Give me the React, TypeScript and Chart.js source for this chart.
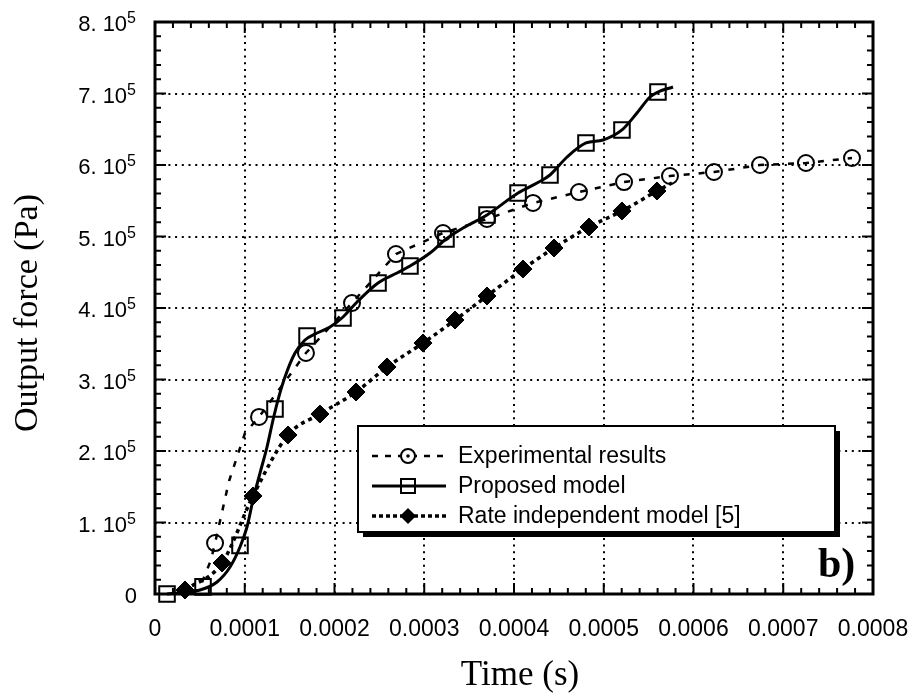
import React, { useEffect, useRef } from "react";
import { Chart, registerables } from "chart.js";

Chart.register(...registerables);

// time values in units of 1e-4 s, force in units of 1e5 Pa
const T_UNIT = 1e-4;
const F_UNIT = 1e5;

// Experimental results (markers)
const expMarkT = [0.669, 1.159, 1.682, 2.195, 2.685, 3.209, 3.699, 4.212, 4.724, 5.226, 5.738, 6.228, 6.741, 7.253, 7.766];
const expMarkF = [0.713, 2.476, 3.371, 4.07, 4.755, 5.049, 5.245, 5.469, 5.622, 5.762, 5.846, 5.902, 6.0, 6.028, 6.098];
// Experimental results (dashed trace)
const expLineT = [0.42, 0.52, 0.624, 0.669, 0.825, 1.003, 1.159, 1.682, 2.195, 2.685, 3.209, 3.699, 4.212, 4.724, 5.226, 5.738, 6.228, 6.741, 7.253, 7.766];
const expLineF = [0.0, 0.15, 0.476, 0.713, 1.58, 2.252, 2.476, 3.371, 4.07, 4.755, 5.049, 5.245, 5.469, 5.622, 5.762, 5.846, 5.902, 6.0, 6.028, 6.098];

// Proposed model (markers)
const propMarkT = [0.134, 0.535, 0.947, 1.337, 1.694, 2.095, 2.485, 2.841, 3.242, 3.699, 4.045, 4.401, 4.802, 5.203, 5.604];
const propMarkF = [0.0, 0.1, 0.68, 2.587, 3.608, 3.86, 4.35, 4.587, 4.965, 5.301, 5.608, 5.86, 6.308, 6.49, 7.021];
// Proposed model (solid trace)
const propLineT = [0.134, 0.501, 0.691, 0.836, 0.947, 1.025, 1.092, 1.17, 1.248, 1.315, 1.37, 1.448, 1.56, 1.671, 1.805, 1.95, 2.095, 2.251, 2.485, 2.696, 2.841, 3.064, 3.242, 3.432, 3.699, 4.045, 4.256, 4.401, 4.591, 4.802, 4.992, 5.203, 5.37, 5.515, 5.604, 5.772];
const propLineF = [0.0, 0.056, 0.168, 0.378, 0.657, 0.937, 1.315, 1.692, 2.056, 2.434, 2.713, 3.035, 3.371, 3.552, 3.65, 3.734, 3.874, 4.084, 4.35, 4.49, 4.587, 4.769, 4.965, 5.119, 5.301, 5.608, 5.748, 5.86, 6.112, 6.308, 6.35, 6.49, 6.727, 6.951, 7.021, 7.091];

// Rate independent model [5]
const rateMarkT = [0.334, 0.747, 1.092, 1.482, 1.838, 2.24, 2.585, 2.986, 3.343, 3.699, 4.1, 4.446, 4.836, 5.203, 5.593];
const rateMarkF = [0.056, 0.434, 1.371, 2.224, 2.517, 2.825, 3.175, 3.51, 3.832, 4.168, 4.545, 4.839, 5.133, 5.357, 5.636];
const rateLineT = [0.334, 0.747, 1.092, 1.482, 1.838, 2.24, 2.585, 2.986, 3.343, 3.699, 4.1, 4.446, 4.836, 5.203, 5.593, 5.76];
const rateLineF = [0.056, 0.434, 1.371, 2.224, 2.517, 2.825, 3.175, 3.51, 3.832, 4.168, 4.545, 4.839, 5.133, 5.357, 5.636, 5.748];

// Axes
const xTickValues = [0, 0.0001, 0.0002, 0.0003, 0.0004, 0.0005, 0.0006, 0.0007, 0.0008];
const xTickLabels = ["0", "0.0001", "0.0002", "0.0003", "0.0004", "0.0005", "0.0006", "0.0007", "0.0008"];
const yTickValues = [0, 100000, 200000, 300000, 400000, 500000, 600000, 700000, 800000];
const yTickMantissa = ["0", "1. 10", "2. 10", "3. 10", "4. 10", "5. 10", "6. 10", "7. 10", "8. 10"];
const yTickExponent = ["", "5", "5", "5", "5", "5", "5", "5", "5"];
const xTitle = "Time (s)";
const yTitle = "Output force (Pa)";
const panelLabel = "b)";
const legendLabels = ["Experimental results", "Proposed model", "Rate independent model [5]"];

const SANS = '"Liberation Sans", Arial, sans-serif';
const SERIF = '"Liberation Serif", "Times New Roman", serif';

const toPts = (t: number[], f: number[]) => t.map((v, i) => ({ x: v * T_UNIT, y: f[i] * F_UNIT }));

const framePlugin = {
  id: "framePlugin",
  afterDraw(chart: any) {
    const { ctx, chartArea: a, scales } = chart;
    const x = scales.x;
    const y = scales.y;
    ctx.save();
    ctx.strokeStyle = "#000";
    ctx.fillStyle = "#000";
    ctx.setLineDash([]);

    // frame
    ctx.lineWidth = 3;
    ctx.strokeRect(a.left, a.top, a.right - a.left, a.bottom - a.top);

    // inward ticks
    ctx.lineWidth = 2;
    ctx.beginPath();
    for (let i = 0; i <= 40; i++) {
      const px = x.getPixelForValue(i * 0.00002);
      const len = i % 5 === 0 ? 11 : 6;
      ctx.moveTo(px, a.bottom);
      ctx.lineTo(px, a.bottom - len);
      ctx.moveTo(px, a.top);
      ctx.lineTo(px, a.top + len);
    }
    for (let i = 0; i <= 40; i++) {
      const py = y.getPixelForValue(i * 20000);
      const len = i % 5 === 0 ? 11 : 6;
      ctx.moveTo(a.left, py);
      ctx.lineTo(a.left + len, py);
      ctx.moveTo(a.right, py);
      ctx.lineTo(a.right - len, py);
    }
    ctx.stroke();

    // x tick labels
    ctx.font = `23px ${SANS}`;
    ctx.textAlign = "center";
    ctx.textBaseline = "alphabetic";
    xTickValues.forEach((v, i) => {
      ctx.fillText(xTickLabels[i], x.getPixelForValue(v), a.bottom + 42);
    });

    // y tick labels with superscript
    const right = a.left - 19;
    yTickValues.forEach((v, i) => {
      const py = y.getPixelForValue(v);
      ctx.textAlign = "right";
      if (yTickExponent[i]) {
        ctx.font = `16px ${SANS}`;
        const ew = ctx.measureText(yTickExponent[i]).width;
        ctx.fillText(yTickExponent[i], right, py + 1);
        ctx.font = `22px ${SANS}`;
        ctx.fillText(yTickMantissa[i], right - ew, py + 9);
      } else {
        ctx.font = `22px ${SANS}`;
        ctx.fillText(yTickMantissa[i], right + 1, py + 9);
      }
    });

    // axis titles
    ctx.font = `35px ${SERIF}`;
    ctx.textAlign = "center";
    ctx.fillText(xTitle, (a.left + a.right) / 2 + 6, 685);
    ctx.save();
    ctx.translate(37, (a.top + a.bottom) / 2 + 5);
    ctx.rotate(-Math.PI / 2);
    ctx.font = `34px ${SERIF}`;
    ctx.fillText(yTitle, 0, 0);
    ctx.restore();

    // panel label
    ctx.font = `bold 42px ${SERIF}`;
    ctx.textAlign = "left";
    ctx.fillText(panelLabel, 818, 577);

    // legend
    const lx = 358, ly = 426, lw = 477, lh = 106;
    ctx.fillStyle = "#000";
    ctx.fillRect(lx + 5, ly + 5, lw, lh);
    ctx.fillStyle = "#fff";
    ctx.fillRect(lx, ly, lw, lh);
    ctx.lineWidth = 2;
    ctx.strokeStyle = "#000";
    ctx.strokeRect(lx, ly, lw, lh);

    const rows = [456, 486, 516];
    const sx0 = 372, sx1 = 446, mx = 408;
    // row 1 experimental
    ctx.lineWidth = 2.5;
    ctx.setLineDash([6, 7]);
    ctx.beginPath();
    ctx.moveTo(sx0, rows[0]);
    ctx.lineTo(sx1, rows[0]);
    ctx.stroke();
    ctx.setLineDash([]);
    ctx.fillStyle = "#fff";
    ctx.beginPath();
    ctx.arc(mx, rows[0], 7, 0, Math.PI * 2);
    ctx.fill();
    ctx.lineWidth = 2;
    ctx.stroke();
    ctx.fillStyle = "#000";
    ctx.beginPath();
    ctx.arc(mx, rows[0], 1.8, 0, Math.PI * 2);
    ctx.fill();
    // row 2 proposed
    ctx.lineWidth = 3;
    ctx.beginPath();
    ctx.moveTo(sx0, rows[1]);
    ctx.lineTo(sx1, rows[1]);
    ctx.stroke();
    ctx.lineWidth = 2;
    ctx.strokeRect(mx - 7, rows[1] - 7, 14, 14);
    // row 3 rate independent
    ctx.lineWidth = 3.5;
    ctx.setLineDash([4, 3]);
    ctx.beginPath();
    ctx.moveTo(sx0, rows[2]);
    ctx.lineTo(sx1, rows[2]);
    ctx.stroke();
    ctx.setLineDash([]);
    ctx.beginPath();
    ctx.moveTo(mx, rows[2] - 8);
    ctx.lineTo(mx + 8, rows[2]);
    ctx.lineTo(mx, rows[2] + 8);
    ctx.lineTo(mx - 8, rows[2]);
    ctx.closePath();
    ctx.fill();

    ctx.font = `23px ${SANS}`;
    ctx.textAlign = "left";
    ctx.textBaseline = "middle";
    legendLabels.forEach((s, i) => ctx.fillText(s, 458, rows[i] + 1));

    ctx.restore();
  },
};

export default function App() {
  const ref = useRef<HTMLCanvasElement | null>(null);

  useEffect(() => {
    if (!ref.current) return;
    const lineBase = { pointRadius: 0, borderColor: "#000", backgroundColor: "transparent", clip: false as any, order: 2, showLine: true, cubicInterpolationMode: "monotone" as any };
    const markBase = { showLine: false, borderColor: "#000", clip: false as any, order: 0 };
    const chart = new Chart(ref.current, {
      type: "scatter",
      data: {
        datasets: [
          { ...lineBase, data: toPts(expLineT, expLineF), borderWidth: 2.5, borderDash: [6, 9], cubicInterpolationMode: "default", tension: 0 },
          { ...markBase, data: toPts(expMarkT, expMarkF), pointStyle: "circle", pointRadius: 8, pointBorderWidth: 2, backgroundColor: "transparent" },
          { ...lineBase, data: toPts(propLineT, propLineF), borderWidth: 3 },
          { ...markBase, data: toPts(propMarkT, propMarkF), pointStyle: "rect", pointRadius: 11, pointBorderWidth: 2, backgroundColor: "transparent" },
          { ...lineBase, data: toPts(rateLineT, rateLineF), borderWidth: 3.5, borderDash: [4, 4] },
          { ...markBase, data: toPts(rateMarkT, rateMarkF), pointStyle: "rectRot", pointRadius: 9, pointBorderWidth: 1, backgroundColor: "#000" },
        ] as any,
      },
      options: {
        animation: false,
        responsive: false,
        events: [],
        layout: { padding: { left: 155, top: 22, right: 38, bottom: 100 } },
        plugins: { legend: { display: false }, tooltip: { enabled: false } },
        scales: {
          x: {
            type: "linear",
            min: 0,
            max: 0.0008,
            ticks: { display: false, stepSize: 0.0001 },
            grid: { color: "#000", lineWidth: 2, drawTicks: false },
            border: { display: false, dash: [2, 4.7] },
          },
          y: {
            type: "linear",
            min: 0,
            max: 800000,
            ticks: { display: false, stepSize: 100000 },
            grid: { color: "#000", lineWidth: 2, drawTicks: false },
            border: { display: false, dash: [2, 4.7] },
          },
        },
      } as any,
      plugins: [framePlugin],
    });
    return () => chart.destroy();
  }, []);

  return (
    <div style={{ position: "absolute", left: 0, top: 0, width: 911, height: 694, background: "#fff" }}>
      <canvas ref={ref} width={911} height={694} style={{ display: "block" }} />
    </div>
  );
}
